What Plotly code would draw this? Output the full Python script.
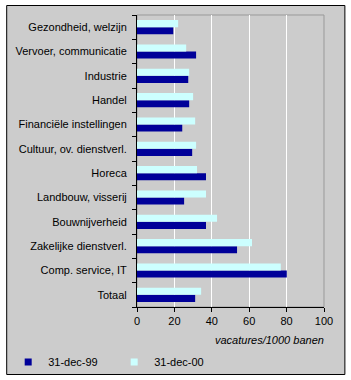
import plotly.graph_objects as go

categories = [
    "Gezondheid, welzijn",
    "Vervoer, communicatie",
    "Industrie",
    "Handel",
    "Financiële instellingen",
    "Cultuur, ov. dienstverl.",
    "Horeca",
    "Landbouw, visserij",
    "Bouwnijverheid",
    "Zakelijke dienstverl.",
    "Comp. service, IT",
    "Totaal",
]
dec99 = [19.4, 31.6, 27.4, 27.9, 24.2, 29.5, 36.9, 25.2, 36.9, 53.5, 80.1, 31.1]
dec00 = [22.0, 26.3, 27.9, 30.0, 31.1, 31.6, 32.1, 36.9, 42.8, 61.5, 76.9, 34.3]
series_names = ["31-dec-99", "31-dec-00"]
series_colors = ["#000099", "#CCFFFF"]
x_ticks = [0, 20, 40, 60, 80, 100]

W, H = 351, 380
L, R, T, B = 136.5, 324.5, 15, 307
pw, ph = R - L, B - T


def px(xp):
    return (xp - L) / pw


def py(yp):
    return (B - yp) / ph


FONT = "Arial, Liberation Sans, sans-serif"

fig = go.Figure()
for name, vals, col in zip(series_names, [dec99, dec00], series_colors):
    fig.add_trace(go.Bar(y=categories, x=vals, orientation="h", name=name,
                         marker=dict(color=col, line=dict(width=0)),
                         showlegend=False))
# legend entries with small square markers
for name, col in zip(series_names, series_colors):
    fig.add_trace(go.Scatter(x=[None], y=[None], mode="markers", name=name,
                             marker=dict(symbol="square", size=7, color=col,
                                         line=dict(width=0)),
                             showlegend=True))

fig.update_layout(
    width=W, height=H,
    margin=dict(l=L, r=W - R, t=T, b=H - B, pad=0, autoexpand=False),
    paper_bgcolor="white",
    plot_bgcolor="rgba(0,0,0,0)",
    barmode="group",
    bargap=0.42,
    bargroupgap=0,
    font=dict(family=FONT, size=11, color="black"),
    showlegend=True,
    legend=dict(
        orientation="h",
        xref="paper", yref="paper",
        x=px(7), y=py(362), xanchor="left", yanchor="middle",
        bgcolor="rgba(0,0,0,0)",
        font=dict(family=FONT, size=11, color="black"),
        entrywidth=61, entrywidthmode="pixels",
        itemwidth=30, itemsizing="trace",
        traceorder="normal",
    ),
    xaxis=dict(
        range=[0, 100], tickvals=x_ticks, ticktext=[str(v) for v in x_ticks],
        showgrid=True, gridcolor="white", gridwidth=1,
        zeroline=False,
        showline=True, linecolor="black", linewidth=1,
        ticks="outside", ticklen=4, tickcolor="black",
        tickfont=dict(family=FONT, size=11, color="black"),
        fixedrange=True,
    ),
    yaxis=dict(
        categoryorder="array", categoryarray=list(reversed(categories)),
        showgrid=False, zeroline=False,
        showline=True, linecolor="black", linewidth=1,
        ticks="outside", ticklen=4, tickcolor="black", tickson="boundaries",
        ticklabelstandoff=7,
        tickfont=dict(family=FONT, size=11, color="black"),
        fixedrange=True,
    ),
    shapes=[
        dict(type="rect", xref="paper", yref="paper", layer="below",
             x0=px(5.5), x1=px(345.5), y0=py(374.5), y1=py(5.5),
             fillcolor="#CCCCCC", line=dict(color="black", width=1)),
        dict(type="rect", xref="paper", yref="paper", layer="below",
             x0=0, x1=1, y0=0, y1=1,
             fillcolor="rgba(0,0,0,0)", line=dict(color="#999999", width=1)),
    ],
    annotations=[
        dict(text="<i>vacatures/1000 banen</i>", xref="paper", yref="paper",
             x=px(327), y=py(340), xanchor="right", yanchor="middle",
             showarrow=False, font=dict(family=FONT, size=11, color="black")),
    ],
)

fig.write_html("out.html", config={"displayModeBar": False})
